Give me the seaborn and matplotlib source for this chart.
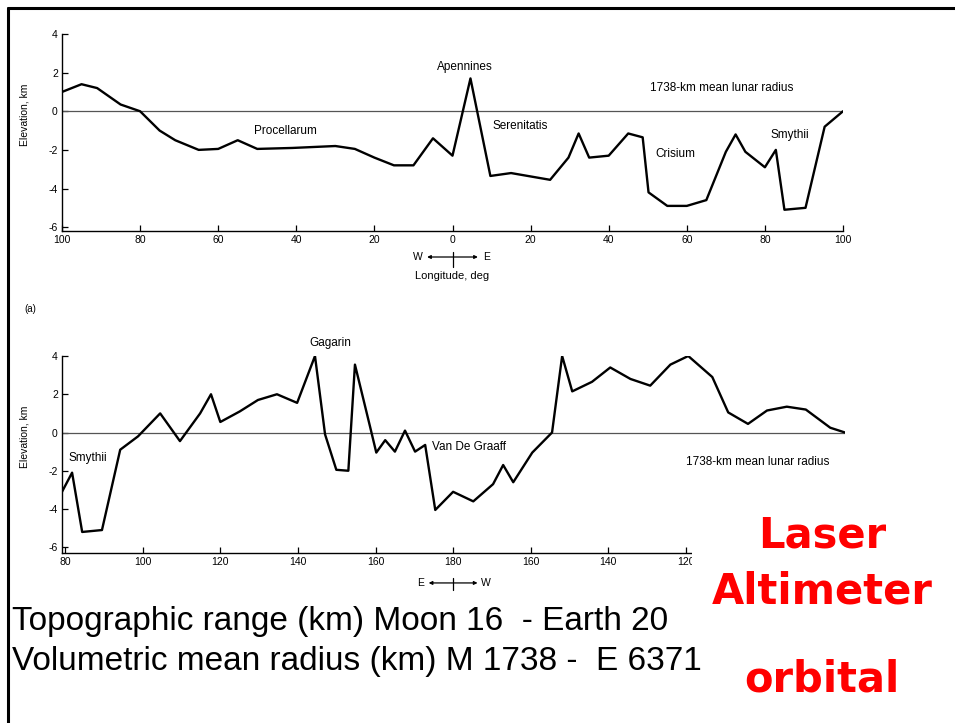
"""
Apollo laser altimeter lunar profiles (slide recreation)
"""

import numpy as np
import pandas as pd
import matplotlib
matplotlib.use("Agg")
import matplotlib.pyplot as plt
import matplotlib.transforms as mtransforms
from matplotlib.patches import Rectangle
from matplotlib.lines import Line2D
import seaborn as sns

# --- data -----------------------------------------------------------------
# top profile: longitude (W negative, E positive), elevation km
top_lon = [-100, -95, -91, -85, -80, -75, -71, -65, -60, -55, -50, -41, -30,
           -25, -20, -15, -10, -5, 0, 4.6, 9.7, 15, 25, 29.7, 32.3, 35, 40,
           45, 48.7, 50.2, 55, 60, 65, 70, 72.5, 75, 80, 82.8, 85, 90.4, 95.3,
           100]
top_elev = [1.0, 1.4, 1.2, 0.35, 0.0, -1.0, -1.5, -2.0, -1.95, -1.5, -1.95,
            -1.9, -1.8, -1.95, -2.4, -2.8, -2.8, -1.4, -2.3, 1.7, -3.35, -3.2,
            -3.55, -2.4, -1.15, -2.4, -2.3, -1.15, -1.35, -4.2, -4.9, -4.9,
            -4.6, -2.1, -1.2, -2.1, -2.9, -2.0, -5.1, -5.0, -0.8, 0.0]
top_ticks = [-100, -80, -60, -40, -20, 0, 20, 40, 60, 80, 100]
top_tick_labels = ["100", "80", "60", "40", "20", "0", "20", "40", "60", "80", "100"]

# bottom profile: continuous east longitude (180 = far side centre)
bot_lon = [79.2, 81.8, 84.4, 89.5, 94.2, 98.8, 104.5, 109.6, 114.8, 117.6,
           120, 125, 129.7, 134.6, 139.8, 144.4, 147, 149.9, 153, 154.7,
           158.6, 160.2, 162.5, 165, 167.6, 170.2, 172.8, 175.4, 180, 185.2,
           190.3, 192.9, 195.5, 200.4, 205.5, 208.1, 210.7, 215.8, 220.5,
           225.7, 230.8, 236, 240.6, 246.8, 250.9, 256, 260.9, 266, 270.9,
           277.2, 281]
bot_elev = [-3.1, -2.1, -5.2, -5.1, -0.9, -0.2, 1.0, -0.45, 1.0, 2.0, 0.55,
            1.1, 1.7, 2.0, 1.55, 4.0, -0.1, -1.95, -2.0, 3.55, 0.3, -1.05,
            -0.4, -1.0, 0.1, -1.0, -0.65, -4.05, -3.1, -3.6, -2.7, -1.7, -2.6,
            -1.05, 0.0, 4.0, 2.15, 2.65, 3.4, 2.8, 2.45, 3.55, 4.0, 2.9, 1.05,
            0.45, 1.15, 1.35, 1.2, 0.25, 0.0]
bot_ticks = [80, 100, 120, 140, 160, 180, 200, 220, 240, 260, 280]
bot_tick_labels = ["80", "100", "120", "140", "160", "180", "160", "140", "120", "100", "80"]

y_ticks = [4, 2, 0, -2, -4, -6]
y_tick_labels = ["4", "2", "0", "-2", "-4", "-6"]

top_notes = [("Apennines", 3.2, 2.3), ("1738-km mean lunar radius", 69, 1.2),
             ("Procellarum", -42.9, -1.0), ("Serenitatis", 17.3, -0.76),
             ("Crisium", 57, -2.2), ("Smythii", 86.4, -1.23)]
bot_notes = [("Gagarin", 148.3, 4.68), ("Smythii", 85.9, -1.33),
             ("Van De Graaff", 184.1, -0.76),
             ("1738-km mean lunar radius", 258.6, -1.55)]

# --- style ----------------------------------------------------------------
sns.set_style("ticks")
plt.rcParams['font.family'] = ['Liberation Sans', 'DejaVu Sans']
plt.rcParams['xtick.direction'] = 'in'
plt.rcParams['ytick.direction'] = 'in'
for key in ('text.color', 'axes.labelcolor', 'xtick.color', 'ytick.color'):
    plt.rcParams[key] = 'black'

W, H = 955, 723
fig = plt.figure(figsize=(W / 100, H / 100), dpi=100)
fig.patch.set_facecolor("white")


def px_axes(left, right, top, bottom):
    return fig.add_axes([left / W, 1 - bottom / H, (right - left) / W, (bottom - top) / H])


def draw_profile(ax, lon, elev, ticks, tick_labels, xlim, ylim):
    df = pd.DataFrame({"lon": lon, "elev": elev})
    ax.axhline(0, color="#555555", lw=0.9, zorder=1)
    sns.lineplot(data=df, x="lon", y="elev", ax=ax, color="black", lw=1.7,
                 estimator=None, sort=False, zorder=3)
    ax.set_xlim(*xlim)
    ax.set_ylim(*ylim)
    ax.set_xticks(ticks)
    ax.set_xticklabels(tick_labels)
    ax.set_yticks(y_ticks)
    ax.set_yticklabels(y_tick_labels)
    ax.tick_params(labelsize=7.5, length=4, width=0.9, pad=3, colors="black")
    for s in ("top", "right"):
        ax.spines[s].set_visible(False)
    for s in ("left", "bottom"):
        ax.spines[s].set_linewidth(1.0)
        ax.spines[s].set_color("black")
    ax.set_xlabel("")
    ax.set_ylabel("Elevation, km", fontsize=7.5)
    ax.yaxis.set_label_coords(-0.041, 0.59)
    ax.set_facecolor("none")


def direction_marker(ax, centre, left_txt, right_txt, y_arrow, y_top, y_bot, half, text_off):
    trans = mtransforms.blended_transform_factory(ax.transData, ax.transAxes)
    ax.annotate("", xy=(centre + half, y_arrow), xytext=(centre - half, y_arrow),
                xycoords=trans, textcoords=trans, annotation_clip=False,
                arrowprops=dict(arrowstyle="<|-|>", lw=0.9, color="black",
                                mutation_scale=5, shrinkA=0, shrinkB=0))
    ax.add_line(Line2D([centre, centre], [y_top, y_bot], transform=trans,
                       color="black", lw=0.9, clip_on=False))
    ax.text(centre - text_off, y_arrow, left_txt, transform=trans, ha="center",
            va="center", fontsize=7.5)
    ax.text(centre + text_off, y_arrow, right_txt, transform=trans, ha="center",
            va="center", fontsize=7.5)


# top panel
ax1 = px_axes(62, 843, 34, 231)
draw_profile(ax1, top_lon, top_elev, top_ticks, top_tick_labels, (-100, 100), (-6.2, 4))
for label, x, y in top_notes:
    ax1.text(x, y, label, ha="center", va="center", fontsize=8.5)
direction_marker(ax1, 0, "W", "E", -0.132, -0.107, -0.183, 6.5, 8.8)
ax1.text(0.5, -0.228, "Longitude, deg", transform=ax1.transAxes, ha="center",
         va="center", fontsize=8)

# bottom panel
ax2 = px_axes(62, 845, 356, 553)
draw_profile(ax2, bot_lon, bot_elev, bot_ticks, bot_tick_labels, (79.2, 281), (-6.3, 4))
for label, x, y in bot_notes:
    ax2.text(x, y, label, ha="center", va="center", fontsize=8.5)
direction_marker(ax2, 180, "E", "W", -0.152, -0.127, -0.188, 6.3, 8.5)

fig.text(30 / W, 1 - 309 / H, "(a)", fontsize=7, ha="center", va="center")

# white box from the slide that hides the lower right corner of the plot
fig.add_artist(Rectangle((692 / W, 0), 1 - 692 / W, 1 - 505 / H,
                         transform=fig.transFigure, facecolor="white",
                         edgecolor="none", zorder=5))

# slide border (top and left)
fig.add_artist(Line2D([8 / W, 8 / W], [0, 1 - 8 / H], transform=fig.transFigure,
                      color="black", lw=2.2, zorder=6))
fig.add_artist(Line2D([8 / W, 1], [1 - 8 / H, 1 - 8 / H], transform=fig.transFigure,
                      color="black", lw=2.2, zorder=6))

# slide text
fig.text(12 / W, 1 - 630 / H, "Topographic range (km) Moon 16  - Earth 20",
         fontsize=24, ha="left", va="baseline", color="black", zorder=7)
fig.text(12 / W, 1 - 670 / H, "Volumetric mean radius (km) M 1738 -  E 6371",
         fontsize=24, ha="left", va="baseline", color="black", zorder=7)
for word, base in (("Laser", 547), ("Altimeter", 603), ("orbital", 692)):
    fig.text(822 / W, 1 - base / H, word, fontsize=30, fontweight="bold",
             color="#ff0000", ha="center", va="baseline",
             family=["DejaVu Sans"], zorder=7)

fig.savefig("out.png", dpi=100)
